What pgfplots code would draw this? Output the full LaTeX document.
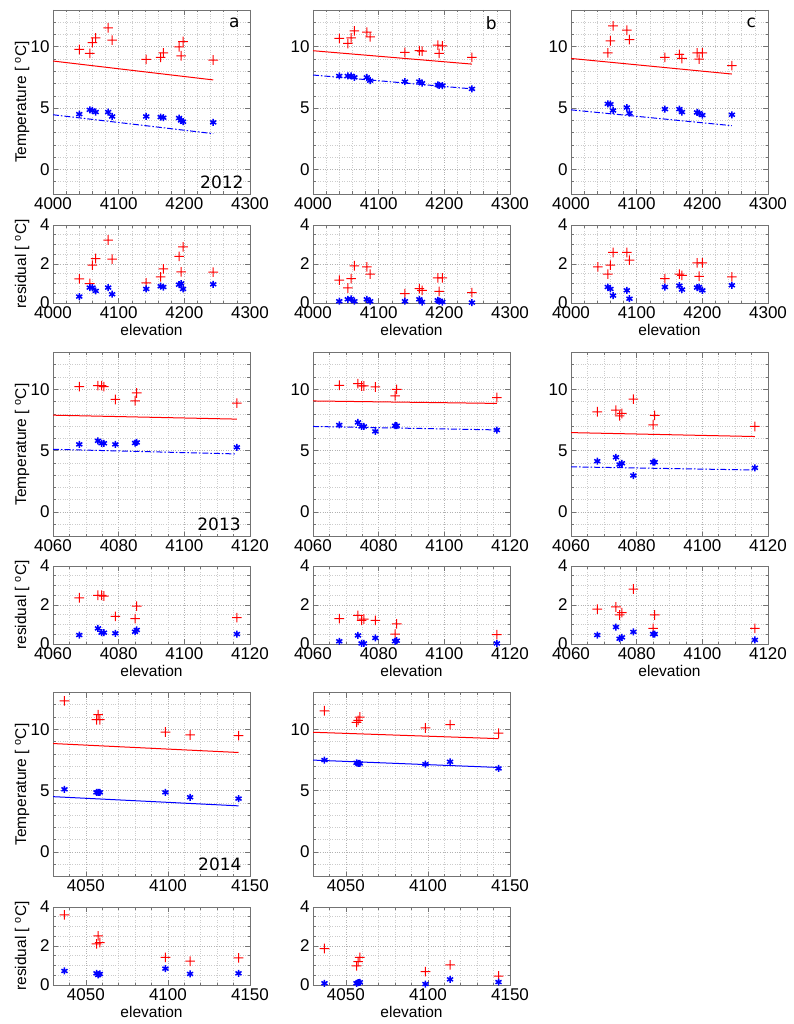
\documentclass[border=0pt]{standalone}
\usepackage{pgfplots}
\pgfplotsset{compat=1.18}
\usepackage{pgfplotstable}
\usepackage{fontspec}
\setmainfont{Liberation Sans}
\newfontfamily\dejavu{DejaVu Sans}

% x = elevation, tr/tb = temperature (red/blue), rr/rb = residual (red/blue)
\pgfplotstableread{
x tr tb rr rb
4040 9.78 4.51 1.24 0.33
4056 9.46 4.86 1.00 0.79
4060 10.35 4.81 1.94 0.79
4065 10.73 4.68 2.28 0.62
4084 11.54 4.68 3.23 0.79
4090 10.54 4.32 2.25 0.45
4142 8.97 4.32 1.03 0.72
4164 9.14 4.27 1.34 0.86
4168 9.51 4.22 1.75 0.82
4192 10.00 4.19 2.39 0.94
4195 9.27 4.00 1.60 1.00
4198 10.43 3.89 2.88 0.72
4244 8.92 3.84 1.58 0.96
}\tA
\pgfplotstableread{
x tr tb rr rb
4040 10.68 7.62 1.17 0.09
4053 10.27 7.62 0.77 0.19
4058 10.73 7.62 1.25 0.21
4063 11.30 7.51 1.91 0.09
4082 11.19 7.51 1.85 0.19
4087 10.81 7.24 1.48 0.09
4140 9.54 7.16 0.48 0.09
4162 9.68 7.16 0.74 0.19
4166 9.65 7.03 0.65 0.05
4190 10.14 6.89 1.29 0.14
4192 9.46 6.86 0.60 0.09
4197 10.08 6.84 1.29 0.05
4242 9.14 6.57 0.53 0.02
}\tB
\pgfplotstableread{
x tr tb rr rb
4041 nan nan 1.85 nan
4056 9.51 5.35 1.48 0.82
4060 10.49 5.32 1.94 0.72
4064 11.70 4.81 2.59 0.38
4085 11.35 5.05 2.59 0.65
4089 10.59 4.59 2.20 0.22
4143 9.14 4.92 1.25 0.82
4165 9.38 4.92 1.48 0.89
4169 9.05 4.68 1.42 0.69
4192 9.51 4.65 2.06 0.79
4195 9.00 4.59 1.37 0.82
4200 9.51 4.43 2.06 0.65
4245 8.46 4.46 1.34 0.91
}\tC
\pgfplotstableread{
x tr tb rr rb
4068 10.22 5.51 2.37 0.46
4073.7 10.30 5.80 2.50 0.80
4074.8 10.30 5.60 2.50 0.58
4075.5 10.22 5.60 2.46 0.58
4079 9.17 5.51 1.42 0.55
4085 9.06 5.62 1.30 0.63
4085.5 9.70 5.67 1.94 0.72
4116 8.87 5.27 1.35 0.51
}\tD
\pgfplotstableread{
x tr tb rr rb
4068 10.33 7.09 1.30 0.14
4073.7 10.46 7.30 1.47 0.44
4074.8 10.27 6.97 1.21 0.03
4075.5 10.27 6.97 1.28 0.03
4079 10.19 6.57 1.21 0.31
4085 9.46 7.03 0.51 0.14
4085.5 10.00 7.03 1.03 0.17
4116 9.33 6.68 0.48 0.03
}\tE
\pgfplotstableread{
x tr tb rr rb
4068 8.17 4.14 1.79 0.46
4073.7 8.30 4.46 1.90 0.87
4074.8 7.84 3.87 1.49 0.27
4075.5 8.03 3.97 1.61 0.34
4079 9.20 2.97 2.82 0.62
4085 7.11 4.06 0.80 0.51
4085.5 7.87 4.06 1.49 0.51
4116 6.97 3.60 0.80 0.21
}\tF
\pgfplotstableread{
x tr tb rr rb
4037 12.32 5.11 3.60 0.72
4056.5 10.78 4.86 2.11 0.60
4057.5 11.19 4.86 2.52 0.52
4058.5 10.78 4.86 2.18 0.57
4098.5 9.78 4.86 1.42 0.84
4113.5 9.54 4.46 1.22 0.57
4143 9.49 4.35 1.39 0.60
}\tG
\pgfplotstableread{
x tr tb rr rb
4037 11.51 7.49 1.87 0.09
4056.5 10.57 7.27 0.98 0.09
4057.5 10.73 7.22 1.20 0.12
4058.5 11.00 7.22 1.42 0.14
4098.5 10.11 7.16 0.69 0.05
4113.5 10.38 7.35 1.03 0.29
4143 9.68 6.81 0.46 0.15
}\tH

% plus sign drawn as a filled cross, with its own fill colour
\pgfdeclareplotmark{fplus}{%
  \pgfsetfillcolor{red}%
  \pgfpathrectangle{\pgfqpoint{-\pgfplotmarksize}{-0.5pt}}{\pgfqpoint{2\pgfplotmarksize}{1pt}}%
  \pgfpathrectangle{\pgfqpoint{-0.5pt}{-\pgfplotmarksize}}{\pgfqpoint{1pt}{2\pgfplotmarksize}}%
  \pgfusepathqfill}

\pgfplotsset{
  base/.style={scale only axis, width=197pt, anchor=north west,
    grid=both, tick align=inside,
    major grid style={dotted, black!30, line width=0.6pt},
    minor grid style={dotted, black!20, line width=0.6pt},
    axis line style={black!55, line width=0.8pt},
    major tick length=5pt, minor tick length=2.5pt,
    every tick/.style={black!55, line width=0.6pt},
    tick label style={font=\fontsize{17}{17}\selectfont},
    /pgf/number format/assume math mode=true,
    /pgf/number format/set thousands separator={},
    label style={font=\fontsize{15.5}{15.5}\selectfont}},
  main/.style={base, height=184pt, ymin=-2, ymax=13, ytick={0,5,10},
    minor ytick={-2,-1,...,13}},
  res/.style={base, height=78pt, ymin=0, ymax=4, ytick={0,2,4},
    minor ytick={0,0.5,...,4}, xlabel={elevation},
    xlabel style={at={(axis description cs:0.5,-0.35)}, anchor=center}},
  yr12/.style={xmin=4000, xmax=4300, xtick={4000,4100,4200,4300},
    minor xtick={4000,4020,...,4300}},
  yr13/.style={xmin=4060, xmax=4120, xtick={4060,4080,4100,4120},
    minor xtick={4060,4065,...,4120}},
  yr14/.style={xmin=4030, xmax=4150, xtick={4050,4100,4150},
    minor xtick={4030,4040,...,4150}},
  tlab/.style={ylabel={Temperature [ \textsuperscript{o}C]},
    ylabel style={at={(axis description cs:-0.157,0.5)}, anchor=center}},
  rlab/.style={ylabel={residual [ \textsuperscript{o}C]},
    ylabel style={at={(axis description cs:-0.157,0.5)}, anchor=center}},
  redp/.style={only marks, mark=fplus, mark size=4.8pt, red, fill=red},
  bluep/.style={only marks, mark=asterisk, mark size=3.5pt, blue,
    line width=1.5pt},
  redl/.style={red, line width=1pt, no marks},
  bluel/.style={blue, line width=1pt, no marks, dash pattern=on 6pt off 2pt on 1.5pt off 2pt},
  bluels/.style={blue, line width=1pt, no marks},
}
\newcommand\ann[1]{\node[font=\dejavu\fontsize{17}{17}\selectfont] at #1;}

\begin{document}
\begin{tikzpicture}
\useasboundingbox (0,0) rectangle (793pt,-1024pt);

% ---- 2012 ----
\begin{axis}[main, yr12, tlab, at={(53pt,-10pt)}]
  \addplot[redl] coordinates {(4000,8.84) (4244,7.30)};
  \addplot[bluel] coordinates {(4000,4.46) (4244,2.92)};
  \addplot[redp] table[x=x,y=tr]{\tA};
  \addplot[bluep] table[x=x,y=tb]{\tA};
  \ann{(rel axis cs:0.92,0.93) {a}}
  \ann{(rel axis cs:0.857,0.063) {2012}}
\end{axis}
\begin{axis}[res, yr12, rlab, at={(53pt,-225pt)}]
  \addplot[redp] table[x=x,y=rr]{\tA};
  \addplot[bluep] table[x=x,y=rb]{\tA};
\end{axis}
\begin{axis}[main, yr12, at={(313pt,-10pt)}]
  \addplot[redl] coordinates {(4000,9.68) (4242,8.59)};
  \addplot[bluel] coordinates {(4000,7.70) (4242,6.57)};
  \addplot[redp] table[x=x,y=tr]{\tB};
  \addplot[bluep] table[x=x,y=tb]{\tB};
  \ann{(rel axis cs:0.905,0.93) {b}}
\end{axis}
\begin{axis}[res, yr12, at={(313pt,-225pt)}]
  \addplot[redp] table[x=x,y=rr]{\tB};
  \addplot[bluep] table[x=x,y=rb]{\tB};
\end{axis}
\begin{axis}[main, yr12, at={(571pt,-10pt)}]
  \addplot[redl] coordinates {(4000,9.05) (4245,7.78)};
  \addplot[bluel] coordinates {(4000,4.86) (4245,3.57)};
  \addplot[redp] table[x=x,y=tr]{\tC};
  \addplot[bluep] table[x=x,y=tb]{\tC};
  \ann{(rel axis cs:0.915,0.93) {c}}
\end{axis}
\begin{axis}[res, yr12, at={(571pt,-225pt)}]
  \addplot[redp] table[x=x,y=rr]{\tC};
  \addplot[bluep] table[x=x,y=rb]{\tC};
\end{axis}

% ---- 2013 ----
\begin{axis}[main, yr13, tlab, at={(53pt,-352.5pt)}]
  \addplot[redl] coordinates {(4060,7.89) (4116,7.57)};
  \addplot[bluel] coordinates {(4060,5.11) (4116,4.73)};
  \addplot[redp] table[x=x,y=tr]{\tD};
  \addplot[bluep] table[x=x,y=tb]{\tD};
  \ann{(rel axis cs:0.843,0.068) {2013}}
\end{axis}
\begin{axis}[res, yr13, rlab, at={(53pt,-566pt)}]
  \addplot[redp] table[x=x,y=rr]{\tD};
  \addplot[bluep] table[x=x,y=rb]{\tD};
\end{axis}
\begin{axis}[main, yr13, at={(313pt,-352.5pt)}]
  \addplot[redl] coordinates {(4060,9.05) (4116,8.85)};
  \addplot[bluel] coordinates {(4060,6.97) (4116,6.69)};
  \addplot[redp] table[x=x,y=tr]{\tE};
  \addplot[bluep] table[x=x,y=tb]{\tE};
\end{axis}
\begin{axis}[res, yr13, at={(313pt,-566pt)}]
  \addplot[redp] table[x=x,y=rr]{\tE};
  \addplot[bluep] table[x=x,y=rb]{\tE};
\end{axis}
\begin{axis}[main, yr13, at={(571pt,-352.5pt)}]
  \addplot[redl] coordinates {(4060,6.47) (4116,6.15)};
  \addplot[bluel] coordinates {(4060,3.68) (4116,3.42)};
  \addplot[redp] table[x=x,y=tr]{\tF};
  \addplot[bluep] table[x=x,y=tb]{\tF};
\end{axis}
\begin{axis}[res, yr13, at={(571pt,-566pt)}]
  \addplot[redp] table[x=x,y=rr]{\tF};
  \addplot[bluep] table[x=x,y=rb]{\tF};
\end{axis}

% ---- 2014 ----
\begin{axis}[main, yr14, tlab, at={(53pt,-692.5pt)}]
  \addplot[redl] coordinates {(4030,8.84) (4143,8.11)};
  \addplot[bluels] coordinates {(4030,4.51) (4143,3.76)};
  \addplot[redp] table[x=x,y=tr]{\tG};
  \addplot[bluep] table[x=x,y=tb]{\tG};
  \ann{(rel axis cs:0.847,0.069) {2014}}
\end{axis}
\begin{axis}[res, yr14, rlab, at={(53pt,-907pt)}]
  \addplot[redp] table[x=x,y=rr]{\tG};
  \addplot[bluep] table[x=x,y=rb]{\tG};
\end{axis}
\begin{axis}[main, yr14, at={(313pt,-692.5pt)}]
  \addplot[redl] coordinates {(4030,9.76) (4143,9.24)};
  \addplot[bluels] coordinates {(4030,7.49) (4143,6.89)};
  \addplot[redp] table[x=x,y=tr]{\tH};
  \addplot[bluep] table[x=x,y=tb]{\tH};
\end{axis}
\begin{axis}[res, yr14, at={(313pt,-907pt)}]
  \addplot[redp] table[x=x,y=rr]{\tH};
  \addplot[bluep] table[x=x,y=rb]{\tH};
\end{axis}
\end{tikzpicture}
\end{document}
